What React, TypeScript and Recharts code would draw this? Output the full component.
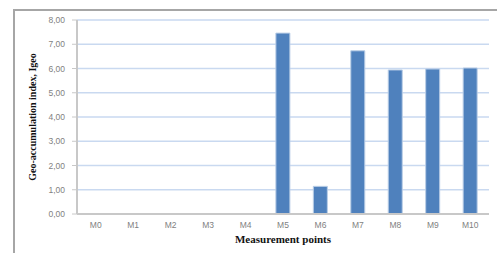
import React from "react";
import { BarChart, Bar, XAxis, YAxis, CartesianGrid, Label } from "recharts";

const points = ["M0", "M1", "M2", "M3", "M4", "M5", "M6", "M7", "M8", "M9", "M10"];
const igeo = [0, 0, 0, 0, 0, 7.46, 1.14, 6.73, 5.94, 5.98, 6.02];
const yTicks = [0, 1, 2, 3, 4, 5, 6, 7, 8];

const data = points.map((p, i) => ({ name: p, igeo: igeo[i] }));

const fmt = (v: number) => v.toFixed(2).replace(".", ",");

export default function App() {
  return (
    <div style={{ position: "absolute", left: 0, top: 0, width: 497, height: 253, background: "#fff" }}>
      {/* outer frame, only top and left edges visible */}
      <div
        style={{
          position: "absolute",
          left: 13,
          top: 9,
          width: 500,
          height: 260,
          borderTop: "2px solid #a6a6a6",
          borderLeft: "2px solid #a6a6a6",
        }}
      />
      <BarChart
        width={497}
        height={253}
        data={data}
        margin={{ top: 20, right: 8, bottom: 0, left: 0 }}
        barCategoryGap="31%"
        style={{ position: "absolute", left: 0, top: 0 }}
      >
        <CartesianGrid vertical={false} stroke="#c9d9f0" strokeWidth={1.5} />
        <XAxis
          dataKey="name"
          height={39}
          tickLine={false}
          tickSize={0}
          tickMargin={8}
          axisLine={{ stroke: "#c8c8c8", strokeWidth: 2 }}
          tick={{ fill: "#7f7f7f", fontSize: 8.5, fontFamily: "Liberation Sans, Arial, sans-serif" }}
          interval={0}
        >
          <Label
            value="Measurement points"
            position="insideBottom"
            offset={10}
            fill="#111"
            style={{ fontFamily: "Liberation Serif, Times New Roman, serif", fontWeight: "bold", fontSize: 11 }}
          />
        </XAxis>
        <YAxis
          width={77}
          domain={[0, 8]}
          ticks={yTicks}
          tickFormatter={fmt}
          tickSize={5}
          tickMargin={7}
          tickLine={{ stroke: "#c8c8c8" }}
          axisLine={{ stroke: "#c8c8c8", strokeWidth: 2 }}
          tick={{ fill: "#7f7f7f", fontSize: 8.5, fontFamily: "Liberation Sans, Arial, sans-serif" }}
        >
          <Label
            value="Geo-accumulation index, Igeo"
            angle={-90}
            position="insideLeft"
            offset={32}
            fill="#111"
            style={{
              fontFamily: "Liberation Serif, Times New Roman, serif",
              fontWeight: "bold",
              fontSize: 10,
              textAnchor: "middle",
            }}
          />
        </YAxis>
        <Bar dataKey="igeo" fill="#4f81bd" stroke="#b9cde6" strokeWidth={1} isAnimationActive={false} />
      </BarChart>
    </div>
  );
}
